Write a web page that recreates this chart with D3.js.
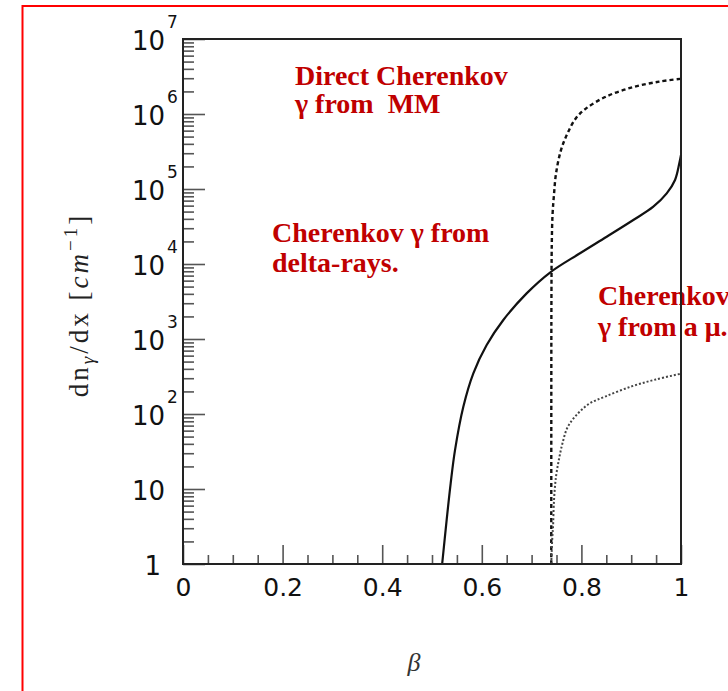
<!DOCTYPE html>
<html>
<head>
<meta charset="utf-8">
<script src="https://cdn.jsdelivr.net/npm/d3@7"></script>
<style>
  html, body { margin: 0; padding: 0; background: #fff; }
  svg { display: block; }
</style>
</head>
<body>
<svg id="chart" width="728" height="691"></svg>
<script>
// Photon yield dn_γ/dx versus β for three Cherenkov sources

// Delta-ray Cherenkov photons (solid)
const deltaBeta  = [0.5204, 0.5295, 0.5375, 0.5462, 0.5629, 0.583, 0.6098, 0.6432, 0.690, 0.737, 0.7972, 0.8508, 0.9042, 0.9444, 0.9713, 0.988, 0.9966, 1.0];
const deltaYield = [1, 3.9, 11.9, 33, 125, 349, 830, 1790, 4060, 7700, 13900, 23100, 38600, 58100, 87400, 132000, 220000, 285000];

// Direct Cherenkov photons from a magnetic monopole (dashed)
const mmBeta  = [0.7395, 0.7396, 0.7398, 0.7405, 0.742, 0.745, 0.749, 0.759, 0.772, 0.789, 0.809, 0.849, 0.9024, 0.956, 1.0];
const mmYield = [1, 300, 3000, 18000, 45000, 85000, 160000, 330000, 550000, 880000, 1180000, 1700000, 2270000, 2700000, 2950000];

// Cherenkov photons from a muon (dotted)
const muBeta  = [0.7395, 0.7405, 0.742, 0.743, 0.745, 0.749, 0.7555, 0.762, 0.772, 0.789, 0.8156, 0.849, 0.902, 0.949, 1.0];
const muYield = [1, 1.6, 2.5, 3.1, 7.1, 14.6, 26, 40.7, 66, 95, 137, 172, 235, 288, 345];

// Axis ticks and labels
const xMajorTicks = [0, 0.2, 0.4, 0.6, 0.8, 1];
const xTickLabels = ["0", "0.2", "0.4", "0.6", "0.8", "1"];
const yMajorTicks = [1, 10, 1e2, 1e3, 1e4, 1e5, 1e6, 1e7];
const yTickBase   = ["1", "10", "10", "10", "10", "10", "10", "10"];
const yTickExp    = ["", "", "2", "3", "4", "5", "6", "7"];

// Annotation text
const notes = [
  { lines: ["Direct Cherenkov", "\u03B3 from  MM"], x: 295, y: 85, gap: 28 },
  { lines: ["Cherenkov \u03B3 from", "delta-rays."], x: 272, y: 242, gap: 30 },
  { lines: ["Cherenkov", "\u03B3 from a \u03BC."], x: 598, y: 305, gap: 31 }
];

const svg = d3.select("#chart");
const plotLeft = 183, plotRight = 681, plotTop = 39, plotBottom = 564;

const x = d3.scaleLinear().domain([0, 1]).range([plotLeft, plotRight]);
const y = d3.scaleLog().domain([1, 1e7]).range([plotBottom, plotTop]);

// outer red frame
svg.append("path")
  .attr("d", `M22.5,${691 + 5} V6 H${728 + 5}`)
  .attr("fill", "none").attr("stroke", "#ff0000").attr("stroke-width", 2);

// annotations (drawn beneath the plot frame)
const noteG = svg.append("g")
  .attr("font-family", "'Liberation Serif', 'Times New Roman', serif")
  .attr("font-weight", "bold").attr("font-size", 28).attr("fill", "#c00000");
notes.forEach(n => {
  n.lines.forEach((t, i) => {
    noteG.append("text").attr("x", n.x).attr("y", n.y + i * n.gap)
      .attr("xml:space", "preserve").style("white-space", "pre").text(t);
  });
});

// curves
const line = d3.line()
  .x(d => x(d[0])).y(d => y(d[1]))
  .curve(d3.curveCatmullRom.alpha(0.5));

svg.append("path")
  .datum(d3.zip(deltaBeta, deltaYield))
  .attr("d", line).attr("fill", "none")
  .attr("stroke", "#111").attr("stroke-width", 2.2);

svg.append("path")
  .datum(d3.zip(mmBeta, mmYield))
  .attr("d", line).attr("fill", "none")
  .attr("stroke", "#111").attr("stroke-width", 2.4)
  .attr("stroke-dasharray", "4,3");

svg.append("path")
  .datum(d3.zip(muBeta, muYield))
  .attr("d", line).attr("fill", "none")
  .attr("stroke", "#444").attr("stroke-width", 2)
  .attr("stroke-dasharray", "2,2");

// minor ticks
const yMinor = [];
for (let d = 0; d < 7; d++) for (let k = 2; k <= 9; k++) yMinor.push(k * Math.pow(10, d));
const xMinor = d3.range(0, 1.0001, 0.05).filter(v => Math.abs(v / 0.2 - Math.round(v / 0.2)) > 1e-6);

svg.append("g").attr("transform", `translate(${plotLeft},0)`)
  .call(d3.axisLeft(y).tickValues(yMinor).tickSize(-11).tickFormat(""))
  .call(g => g.select(".domain").remove())
  .selectAll("line").attr("stroke", "#555").attr("stroke-width", 1.6);

svg.append("g").attr("transform", `translate(0,${plotBottom})`)
  .call(d3.axisBottom(x).tickValues(xMinor).tickSize(-9).tickFormat(""))
  .call(g => g.select(".domain").remove())
  .selectAll("line").attr("stroke", "#555").attr("stroke-width", 1.6);

// major ticks with labels
const yAxis = svg.append("g").attr("transform", `translate(${plotLeft},0)`)
  .call(d3.axisLeft(y).tickValues(yMajorTicks).tickSize(-22).tickPadding(17)
    .tickFormat((d, i) => yTickBase[i]));
yAxis.select(".domain").remove();
yAxis.selectAll("line").attr("stroke", "#555").attr("stroke-width", 1.6);
yAxis.selectAll(".tick text")
  .attr("font-family", "'DejaVu Sans', sans-serif").attr("font-size", 26)
  .attr("fill", "#111").attr("dy", "0.42em");
yAxis.selectAll(".tick").each(function (d, i) {
  const g = d3.select(this);
  if (i === 0) { g.select("text").attr("x", -22); return; }
  g.select("text").attr("x", -18);
  if (!yTickExp[i]) return;
  g.append("text").attr("x", -16).attr("y", -12)
    .attr("font-family", "'DejaVu Sans', sans-serif").attr("font-size", 17)
    .attr("fill", "#111").attr("text-anchor", "start").text(yTickExp[i]);
});

const xAxis = svg.append("g").attr("transform", `translate(0,${plotBottom})`)
  .call(d3.axisBottom(x).tickValues(xMajorTicks).tickSize(-19).tickPadding(14)
    .tickFormat((d, i) => xTickLabels[i]));
xAxis.select(".domain").remove();
xAxis.selectAll("line").attr("stroke", "#555").attr("stroke-width", 1.6);
xAxis.selectAll("text")
  .attr("font-family", "'DejaVu Sans', sans-serif").attr("font-size", 25)
  .attr("fill", "#111").attr("dy", "0.71em");

// plot frame
svg.append("rect")
  .attr("x", plotLeft).attr("y", plotTop)
  .attr("width", plotRight - plotLeft).attr("height", plotBottom - plotTop)
  .attr("fill", "none").attr("stroke", "#222").attr("stroke-width", 2);

// axis titles
svg.append("text")
  .attr("x", 414).attr("y", 671)
  .attr("text-anchor", "middle")
  .attr("font-family", "'Liberation Serif', serif").attr("font-style", "italic")
  .attr("font-size", 26).attr("fill", "#333").text("\u03B2");

const yt = svg.append("text")
  .attr("transform", "translate(88,305) rotate(-90)")
  .attr("text-anchor", "middle")
  .attr("font-family", "'Liberation Serif', serif")
  .attr("font-size", 27).attr("fill", "#222")
  .attr("letter-spacing", 3);
yt.append("tspan").text("dn");
yt.append("tspan").attr("font-size", 19).attr("dy", 6).attr("font-style", "italic").text("\u03B3");
yt.append("tspan").attr("dy", -6).text("/dx [");
yt.append("tspan").attr("font-style", "italic").text("cm");
yt.append("tspan").attr("font-size", 19).attr("dy", -11).text("\u22121");
yt.append("tspan").attr("dy", 11).text("]");
</script>
</body>
</html>
